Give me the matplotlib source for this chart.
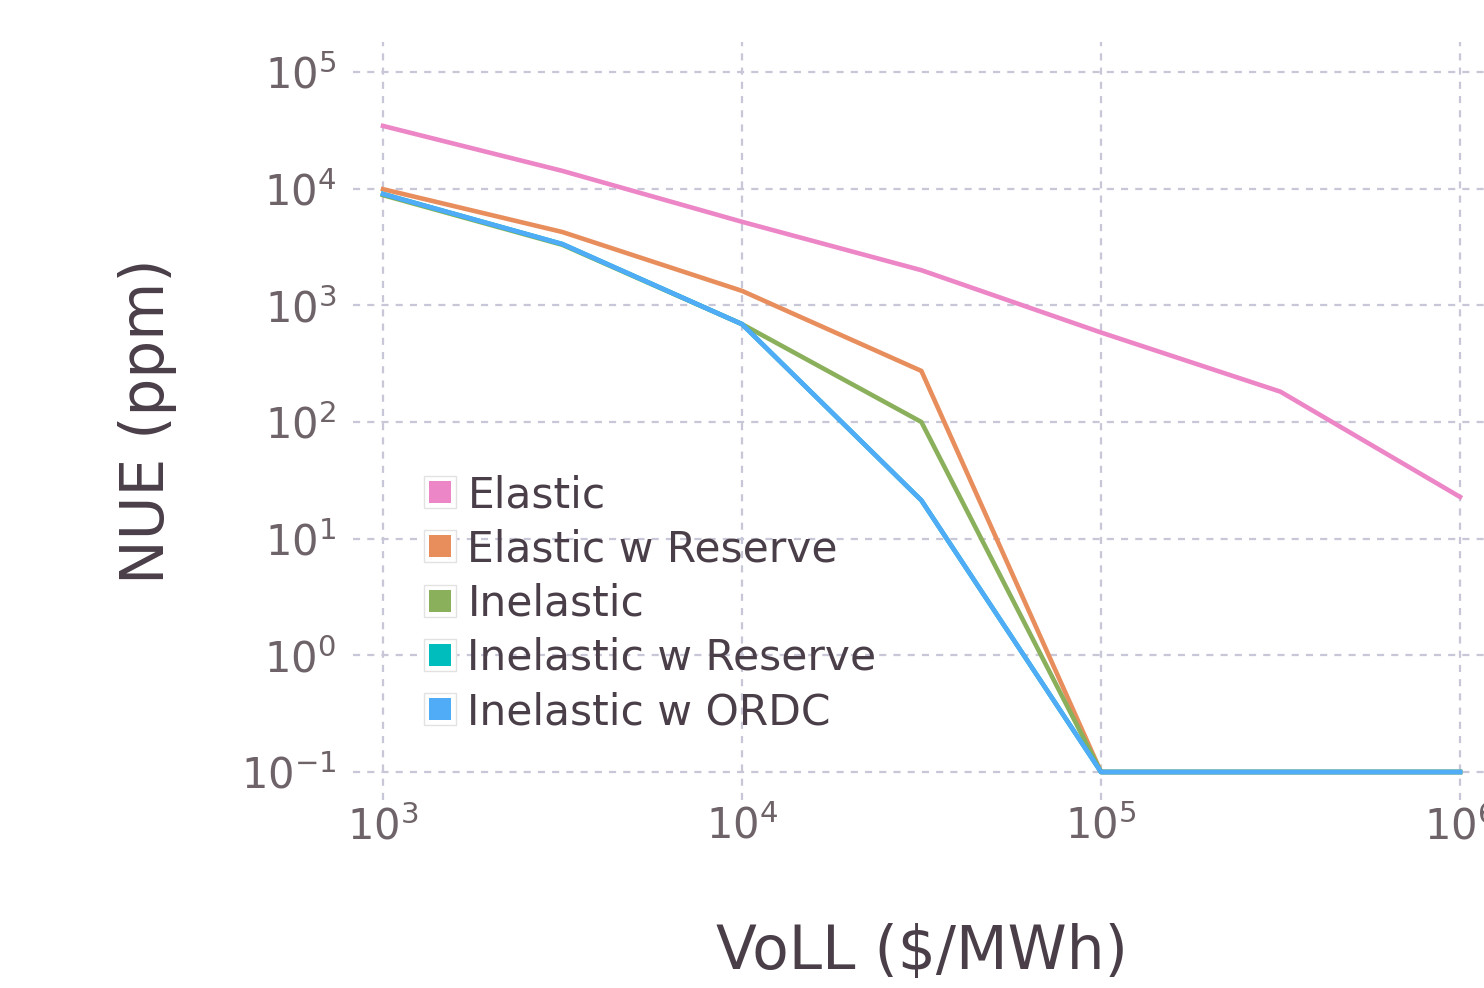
import matplotlib
matplotlib.use('Agg')
import matplotlib.pyplot as plt
from matplotlib.lines import Line2D
from matplotlib.legend_handler import HandlerTuple

# Data (zero values are shown at the 0.1 floor)
voll = [1e3, 3.16e3, 1e4, 3.16e4, 1e5, 3.16e5, 1e6]
elastic = [34500, 14200, 5200, 2000, 585, 182, 22.8]
elastic_res = [9900, 4250, 1330, 274, 0.1, 0.1, 0.1]
inelastic = [8800, 3300, 690, 100, 0.1, 0.1, 0.1]
inelastic_res = [9000, 3350, 690, 21.3, 0.1, 0.1, 0.1]
inelastic_ordc = [9000, 3350, 690, 21.3, 0.1, 0.1, 0.1]

labels = ['Elastic', 'Elastic w Reserve', 'Inelastic', 'Inelastic w Reserve', 'Inelastic w ORDC']
series = [elastic, elastic_res, inelastic, inelastic_res, inelastic_ordc]
colors = ['#EC86C7', '#E88E5D', '#8BB05B', '#00BDBD', '#50ACF6']

xticks = [1e3, 1e4, 1e5, 1e6]
yticks = [1e-1, 1e0, 1e1, 1e2, 1e3, 1e4, 1e5]

tick_color = '#6E6369'
label_color = '#4A3F48'
grid_color = '#C8C7D7'

fig = plt.figure(figsize=(14.84, 9.88), dpi=100)
ax = fig.add_axes([353 / 1484, 188 / 988, 1137 / 1484, 758 / 988])

for ys, c in zip(series, colors):
    ax.plot(voll, ys, color=c, linewidth=3.3, solid_joinstyle='round')

ax.set_xscale('log')
ax.set_yscale('log')
ax.set_xlim(10 ** (3 - 30 / 359), 10 ** (6 + 30 / 359))
ax.set_ylim(10 ** (-1 - 28 / 116.7), 10 ** (5 + 30 / 116.7))
ax.set_xticks(xticks)
ax.set_yticks(yticks)
ax.minorticks_off()

for s in ax.spines.values():
    s.set_visible(False)
ax.tick_params(axis='both', length=0, labelsize=30, labelcolor=tick_color)
ax.tick_params(axis='y', pad=12)
ax.tick_params(axis='x', pad=4)
ax.grid(True, color=grid_color, linewidth=1.6, linestyle=(0, (3.2, 3.2)))
ax.set_axisbelow(True)

ax.set_xlabel('VoLL ($/MWh)', fontsize=43, color=label_color, va='center')
ax.set_ylabel('NUE (ppm)', fontsize=43, color=label_color, va='center')
ax.xaxis.set_label_coords(0.5, -0.2018)
ax.yaxis.set_label_coords(-0.181, 0.5)

# legend: coloured square inside a light framed box
handles = []
for c in colors:
    frame = Line2D([], [], linestyle='none', marker='s', markersize=23,
                   markerfacecolor='white', markeredgecolor='#E2E2E2', markeredgewidth=1.0)
    swatch = Line2D([], [], linestyle='none', marker='s', markersize=16.5,
                    markerfacecolor=c, markeredgewidth=0)
    handles.append((frame, swatch))
ax.legend(handles, labels, handler_map={tuple: HandlerTuple(ndivide=1)},
          loc='upper left', bbox_to_anchor=(423 / 1484, 1 - 474 / 988),
          bbox_transform=fig.transFigure, frameon=False, fontsize=30.5,
          labelcolor=label_color, handlelength=0.8, handletextpad=0.25,
          labelspacing=0.29, borderpad=0, borderaxespad=0)

fig.savefig('out.png', dpi=100)
